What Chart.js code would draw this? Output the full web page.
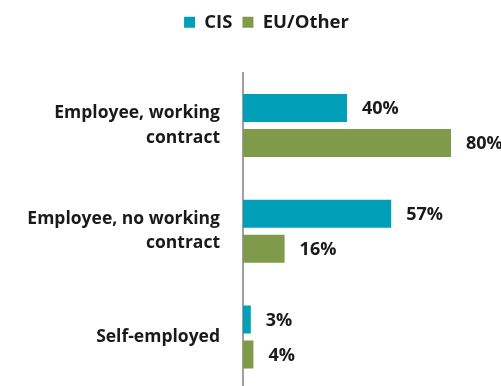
<!DOCTYPE html>
<html>
<head>
<meta charset="utf-8">
<script src="https://cdn.jsdelivr.net/npm/chart.js@4/dist/chart.umd.min.js"></script>
<style>
  html, body { margin: 0; padding: 0; background: #fff; overflow: hidden; }
  canvas { display: block; }
</style>
</head>
<body>
<canvas id="workChart" width="501" height="390"></canvas>
<script>
(function () {
	'use strict';

	var categories = [
		['Employee, working', 'contract'],
		['Employee, no working', 'contract'],
		'Self-employed'
	];
	var seriesNames = ['CIS', 'EU/Other'];
	var cisValues = [40, 57, 3];
	var euValues = [80, 16, 4];

	var colors = ['#009FB7', '#7F9A48'];
	var fontFamily = "'Open Sans', 'DejaVu Sans', sans-serif";

	// extra room under the legend, and nudge it right
	var legendGap = {
		id: 'legendGap',
		beforeInit: function (chart) {
			var origFit = chart.legend.fit;
			chart.legend.fit = function () {
				origFit.bind(chart.legend)();
				this.height += 31;
			};
		},
		afterLayout: function (chart) {
			chart.legend.left += 28;
			chart.legend.right += 28;
		}
	};

	// percent labels to the right of each bar
	var valueLabels = {
		id: 'valueLabels',
		afterDatasetsDraw: function (chart) {
			var ctx = chart.ctx;
			ctx.save();
			ctx.font = 'bold 18px ' + fontFamily;
			ctx.fillStyle = '#1a1a1a';
			ctx.textBaseline = 'middle';
			ctx.textAlign = 'left';
			chart.data.datasets.forEach(function (ds, i) {
				var meta = chart.getDatasetMeta(i);
				meta.data.forEach(function (bar, j) {
					ctx.fillText(ds.data[j] + '%', bar.x + 15, bar.y + 1);
				});
			});
			ctx.restore();
		}
	};

	new Chart(document.getElementById('workChart'), {
		type: 'bar',
		data: {
			labels: categories,
			datasets: [{
				label: seriesNames[0],
				data: cisValues,
				backgroundColor: colors[0]
			}, {
				label: seriesNames[1],
				data: euValues,
				backgroundColor: colors[1]
			}]
		},
		options: {
			indexAxis: 'y',
			responsive: false,
			animation: false,
			categoryPercentage: 0.662,
			barPercentage: 0.8,
			layout: {
				padding: { top: 3, right: 24, left: 0, bottom: 0 }
			},
			scales: {
				x: {
					display: false,
					min: 0,
					max: 90
				},
				y: {
					afterFit: function (scale) {
						scale.width = 243;
						scale.paddingTop = 0;
						scale.paddingBottom = 0;
					},
					grid: { display: false, drawTicks: false },
					border: { display: true, color: '#a0a0a0', width: 2 },
					ticks: {
						padding: 23,
						color: '#1a1a1a',
						font: { family: fontFamily, size: 17.5, weight: 'bold', lineHeight: 1.4 }
					}
				}
			},
			plugins: {
				legend: {
					position: 'top',
					labels: {
						boxWidth: 11,
						boxHeight: 11,
						padding: 10,
						color: '#1a1a1a',
						font: { family: fontFamily, size: 18.5, weight: 'bold' }
					}
				},
				tooltip: { enabled: false }
			}
		},
		plugins: [legendGap, valueLabels]
	});
})();
</script>
</body>
</html>
